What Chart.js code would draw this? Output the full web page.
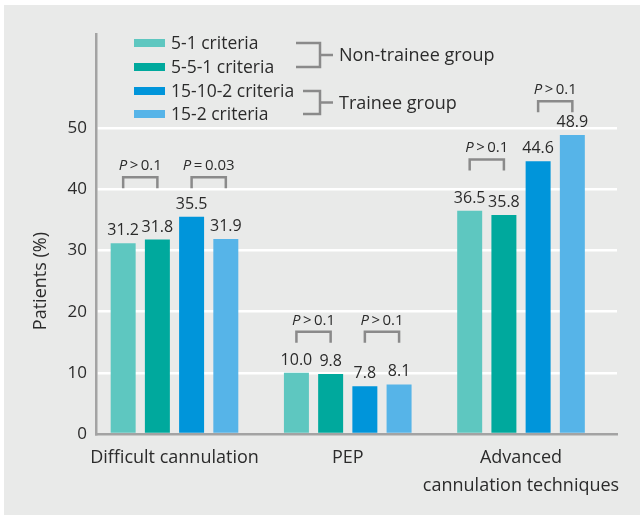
<!DOCTYPE html>
<html><head><meta charset="utf-8">
<script src="https://cdn.jsdelivr.net/npm/chart.js@4/dist/chart.umd.min.js"></script>
<style>html,body{margin:0;padding:0;background:#fff;} #wrap{position:relative;width:640px;height:515px;}</style>
</head><body><div id="wrap"><canvas id="c" width="640" height="515"></canvas></div>
<script>
const categories = ['Difficult cannulation', 'PEP', ['Advanced', 'cannulation techniques']];
const seriesNames = ['5-1 criteria', '5-5-1 criteria', '15-10-2 criteria', '15-2 criteria'];
const s51 = [31.2, 10.0, 36.5];
const s551 = [31.8, 9.8, 35.8];
const s15102 = [35.5, 7.8, 44.6];
const s152 = [31.9, 8.1, 48.9];
const yTicks = [0, 10, 20, 30, 40, 50];
const groupNames = ['Non-trainee group', 'Trainee group'];
// comparisons between bars: category, first series, second series, p text, bracket level (%)
const compCategory = [0, 0, 1, 1, 2, 2];
const compFrom = [0, 2, 0, 2, 0, 2];
const compTo = [1, 3, 1, 3, 1, 3];
const compP = ['> 0.1', '= 0.03', '> 0.1', '> 0.1', '> 0.1', '> 0.1'];
const compLevel = [40.2, 40.2, 14.9, 14.9, 43.1, 52.6];

const colors = ['#5ec7c0', '#00a99d', '#0095da', '#56b4e8'];
const FONT = '"Open Sans", "DejaVu Sans", sans-serif';
const TXT = '#2b2b2b';
const GREY = '#8a8a8a';
const THIN = '\u2009';

const seriesData = [s51, s551, s15102, s152];
const datasets = seriesData.map((arr, i) => ({
  label: seriesNames[i],
  data: arr.map((v, j) => ({x: j, y: v})),
  backgroundColor: colors[i],
  borderWidth: 0,
  categoryPercentage: 0.79,
  barPercentage: 0.73
}));

const decor = {
  id: 'decor',
  beforeDraw(chart) {
    const ctx = chart.ctx;
    ctx.save();
    ctx.fillStyle = '#fff';
    ctx.fillRect(0, 0, chart.width, chart.height);
    ctx.fillStyle = '#e9eae9';
    ctx.fillRect(4, 5, chart.width - 4, chart.height - 5);
    ctx.restore();
  },
  afterDatasetsDraw(chart) {
    const ctx = chart.ctx;
    const ys = chart.scales.y;
    ctx.save();
    // value labels
    ctx.font = '16px ' + FONT;
    ctx.fillStyle = TXT;
    ctx.textAlign = 'center';
    ctx.textBaseline = 'alphabetic';
    chart.data.datasets.forEach((ds, i) => {
      const meta = chart.getDatasetMeta(i);
      meta.data.forEach((bar, j) => {
        ctx.fillText(seriesData[i][j].toFixed(1), bar.x, bar.y - 8);
      });
    });
    // comparison brackets
    ctx.strokeStyle = GREY;
    ctx.lineWidth = 2.5;
    compCategory.forEach((c, k) => {
      const x1 = chart.getDatasetMeta(compFrom[k]).data[c].x;
      const x2 = chart.getDatasetMeta(compTo[k]).data[c].x;
      const yb = ys.getPixelForValue(compLevel[k]);
      const top = yb - 11;
      ctx.beginPath();
      ctx.moveTo(x1, yb); ctx.lineTo(x1, top); ctx.lineTo(x2, top); ctx.lineTo(x2, yb);
      ctx.stroke();
      const pTxt = 'P';
      const rest = THIN + compP[k].replace(' ', THIN);
      ctx.font = 'italic 15px ' + FONT;
      const w1 = ctx.measureText(pTxt).width;
      ctx.font = '15px ' + FONT;
      const w2 = ctx.measureText(rest).width;
      const cx = (x1 + x2) / 2;
      const sx = cx - (w1 + w2) / 2;
      const ty = top - 7;
      ctx.textAlign = 'left';
      ctx.font = 'italic 15px ' + FONT;
      ctx.fillText(pTxt, sx, ty);
      ctx.font = '15px ' + FONT;
      ctx.fillText(rest, sx + w1, ty);
    });
    ctx.restore();
  },
  afterDraw(chart) {
    const ctx = chart.ctx;
    const ys = chart.scales.y;
    ctx.save();
    // legend
    const rows = [43, 67, 91, 114];
    ctx.font = '17.5px ' + FONT;
    ctx.textBaseline = 'middle';
    ctx.textAlign = 'left';
    chart.data.datasets.forEach((ds, i) => {
      ctx.fillStyle = ds.backgroundColor;
      ctx.fillRect(134, rows[i] - 4, 31, 8);
      ctx.fillStyle = TXT;
      ctx.fillText(ds.label, 171, rows[i] + 1);
    });
    // group brackets
    ctx.strokeStyle = GREY;
    ctx.lineWidth = 2.5;
    const starts = [296, 303];
    [[0, 1], [2, 3]].forEach((pair, g) => {
      const ya = rows[pair[0]], yb = rows[pair[1]];
      ctx.beginPath();
      ctx.moveTo(starts[g], ya); ctx.lineTo(320, ya); ctx.lineTo(320, yb); ctx.lineTo(starts[g], yb);
      ctx.moveTo(320, (ya + yb) / 2); ctx.lineTo(333, (ya + yb) / 2);
      ctx.stroke();
      ctx.fillStyle = TXT;
      ctx.font = '18px ' + FONT;
      ctx.fillText(groupNames[g], 339, (ya + yb) / 2 + 1);
    });
    // y title
    ctx.translate(41, (ys.getPixelForValue(0) + ys.getPixelForValue(50)) / 2);
    ctx.rotate(-Math.PI / 2);
    ctx.textAlign = 'center';
    ctx.font = '18px ' + FONT;
    ctx.fillStyle = TXT;
    ctx.fillText('Patients (%)', 0, 0);
    ctx.restore();
  }
};

new Chart(document.getElementById('c'), {
  type: 'bar',
  data: {datasets},
  options: {
    responsive: false,
    animation: false,
    devicePixelRatio: 1,
    layout: {padding: {left: 0, right: 23, top: 34, bottom: 0}},
    plugins: {legend: {display: false}, tooltip: {enabled: false}},
    scales: {
      x: {
        type: 'linear',
        offset: false,
        min: -0.453, max: 2.554,
        afterBuildTicks: (s) => { s.ticks = categories.map((c, i) => ({value: i})); },
        afterFit: (s) => { s.height = 81; },
        grid: {display: false, drawTicks: false, offset: false},
        border: {color: '#a3a3a3', width: 2.5},
        ticks: {
          callback: (v) => categories[v],
          font: {family: FONT, size: 18, lineHeight: 1.6},
          color: TXT, padding: 9, maxRotation: 0, autoSkip: false
        }
      },
      y: {
        min: 0, max: 65.4,
        afterBuildTicks: (s) => { s.ticks = yTicks.map(v => ({value: v})); },
        afterFit: (s) => { s.width = 96; },
        grid: {color: (c) => c.tick && c.tick.value === 0 ? 'rgba(0,0,0,0)' : '#ffffff', lineWidth: 2.5, drawTicks: false},
        border: {color: '#a3a3a3', width: 2.5},
        ticks: {font: {family: FONT, size: 17}, color: TXT, padding: 9}
      }
    }
  },
  plugins: [decor]
});
</script></body></html>
